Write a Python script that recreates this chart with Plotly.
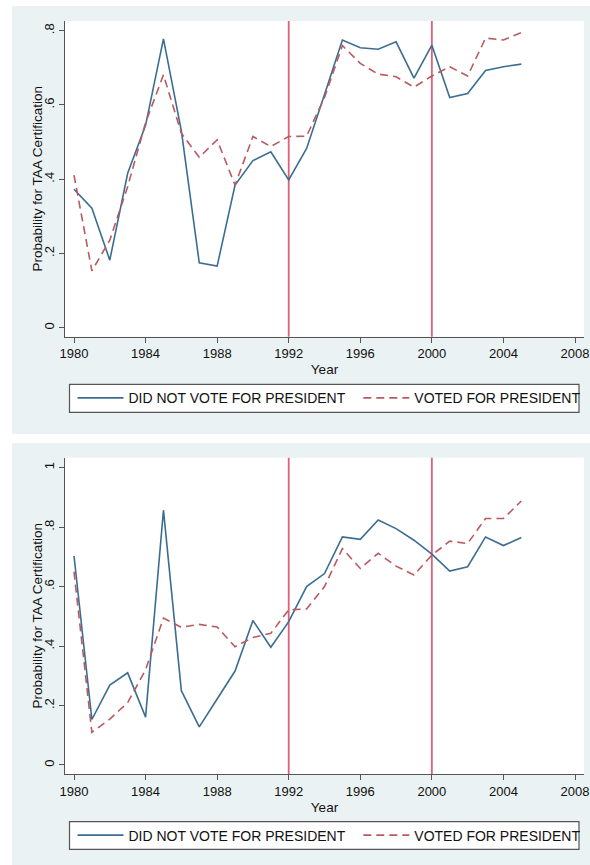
import plotly.graph_objects as go

W, H = 590, 865

years = [1980, 1981, 1982, 1983, 1984, 1985, 1986, 1987, 1988, 1989, 1990, 1991, 1992,
         1993, 1994, 1995, 1996, 1997, 1998, 1999, 2000, 2001, 2002, 2003, 2004, 2005]

top_not_voted = [0.373, 0.322, 0.182, 0.416, 0.545, 0.778, 0.530, 0.175, 0.166, 0.384, 0.450,
                 0.474, 0.398, 0.483, 0.628, 0.775, 0.754, 0.750, 0.770, 0.672, 0.761, 0.620,
                 0.631, 0.693, 0.703, 0.710]
top_voted = [0.411, 0.153, 0.236, 0.380, 0.552, 0.681, 0.524, 0.459, 0.506, 0.384, 0.515,
             0.488, 0.515, 0.516, 0.620, 0.760, 0.712, 0.683, 0.676, 0.648, 0.678, 0.703,
             0.678, 0.780, 0.775, 0.795]

bot_not_voted = [0.703, 0.153, 0.269, 0.310, 0.161, 0.857, 0.250, 0.128, 0.222, 0.316, 0.486,
                 0.396, 0.482, 0.600, 0.644, 0.767, 0.759, 0.824, 0.795, 0.756, 0.709, 0.652,
                 0.667, 0.767, 0.738, 0.765]
bot_voted = [0.650, 0.110, 0.154, 0.210, 0.320, 0.494, 0.463, 0.473, 0.464, 0.398, 0.429,
             0.443, 0.522, 0.525, 0.600, 0.728, 0.661, 0.712, 0.669, 0.639, 0.706, 0.753,
             0.745, 0.829, 0.829, 0.888]

event_years = [1992, 2000]

x_tickvals = [1980, 1984, 1988, 1992, 1996, 2000, 2004, 2008]
x_ticktext = ["1980", "1984", "1988", "1992", "1996", "2000", "2004", "2008"]
top_y_tickvals = [0, 0.2, 0.4, 0.6, 0.8]
top_y_ticktext = ["0", ".2", ".4", ".6", ".8"]
bot_y_tickvals = [0, 0.2, 0.4, 0.6, 0.8, 1]
bot_y_ticktext = ["0", ".2", ".4", ".6", ".8", "1"]

name_not = "DID NOT VOTE FOR PRESIDENT"
name_voted = "VOTED FOR PRESIDENT"
ytitle = "Probability for TAA Certification"
xtitle = "Year"

BLUE = "#3b6d92"
RED = "#b85a5f"
VLINE = "#e0607a"
BG = "#eaf2f3"
AXC = "#555555"
TXT = "#111111"
FONT = "Liberation Sans, Arial, Helvetica, sans-serif"


def px_x(p):
    return p / W


def px_y(p):
    return 1 - p / H


fig = go.Figure()

dash_style = "8px,5px"
# panel 1
fig.add_trace(go.Scatter(x=years, y=top_not_voted, mode="lines", name=name_not,
                         line=dict(color=BLUE, width=1.6), xaxis="x", yaxis="y", legend="legend"))
fig.add_trace(go.Scatter(x=years, y=top_voted, mode="lines", name=name_voted,
                         line=dict(color=RED, width=1.6, dash=dash_style), xaxis="x", yaxis="y",
                         legend="legend2"))
# panel 2
fig.add_trace(go.Scatter(x=years, y=bot_not_voted, mode="lines", name=name_not,
                         line=dict(color=BLUE, width=1.6), xaxis="x2", yaxis="y2", legend="legend3"))
fig.add_trace(go.Scatter(x=years, y=bot_voted, mode="lines", name=name_voted,
                         line=dict(color=RED, width=1.6, dash=dash_style), xaxis="x2", yaxis="y2",
                         legend="legend4"))

xdom = [px_x(65), px_x(584)]
xrange_ = [1979.497, 2008.503]

common_x = dict(range=xrange_, tickmode="array", tickvals=x_tickvals, ticktext=x_ticktext,
                showgrid=False, zeroline=False, showline=True, linecolor=AXC, linewidth=1.2,
                ticks="outside", ticklen=5, tickcolor=AXC, tickwidth=1.2, automargin=False,
                tickfont=dict(size=13, color=TXT, family=FONT),
                title=dict(text=xtitle, font=dict(size=13.5, color=TXT, family=FONT), standoff=4))
common_y = dict(showgrid=False, zeroline=False, showline=True, linecolor=AXC, linewidth=1.2,
                ticks="outside", ticklen=5, tickcolor=AXC, tickwidth=1.2, tickangle=-90,
                automargin=False,
                tickfont=dict(size=13, color=TXT, family=FONT))


def leg(xpx, ypx):
    return dict(orientation="h", x=px_x(xpx), xanchor="left", y=px_y(ypx), yanchor="middle",
                bgcolor="rgba(0,0,0,0)", borderwidth=0, itemwidth=46,
                font=dict(size=14, color=TXT, family=FONT))


fig.update_layout(
    width=W, height=H,
    margin=dict(l=0, r=0, t=0, b=0, autoexpand=False),
    paper_bgcolor="white", plot_bgcolor="white",
    font=dict(family=FONT, color=TXT),
    xaxis=dict(domain=xdom, anchor="y", **common_x),
    yaxis=dict(domain=[px_y(336.7), px_y(21)], anchor="x", range=[-0.0242, 0.8261],
               tickmode="array", tickvals=top_y_tickvals, ticktext=top_y_ticktext, **common_y),
    xaxis2=dict(domain=xdom, anchor="y2", **common_x),
    yaxis2=dict(domain=[px_y(774), px_y(457.7)], anchor="x2", range=[-0.0303, 1.0336],
                tickmode="array", tickvals=bot_y_tickvals, ticktext=bot_y_ticktext, **common_y),
    legend=leg(72.5, 398.3),
    legend2=leg(358.3, 398.3),
    legend3=leg(72.5, 835.5),
    legend4=leg(358.3, 835.5),
    showlegend=True,
)

# y-axis titles, placed like the reference
for yc in (178.9, 615.9):
    fig.add_annotation(text=ytitle, xref="paper", yref="paper", x=px_x(37.7), y=px_y(yc),
                       xanchor="center", yanchor="middle", textangle=-90, showarrow=False,
                       font=dict(size=13.5, color=TXT, family=FONT))

shapes = []
# graph region backgrounds
shapes.append(dict(type="rect", xref="paper", yref="paper", x0=px_x(12), x1=1.0,
                   y0=px_y(434), y1=px_y(6), fillcolor=BG, line=dict(width=0), layer="below"))
shapes.append(dict(type="rect", xref="paper", yref="paper", x0=px_x(12), x1=1.0,
                   y0=0, y1=px_y(443), fillcolor=BG, line=dict(width=0), layer="below"))
# plot regions (white)
shapes.append(dict(type="rect", xref="paper", yref="paper", x0=px_x(65), x1=px_x(584),
                   y0=px_y(336.7), y1=px_y(21), fillcolor="white", line=dict(width=0), layer="below"))
shapes.append(dict(type="rect", xref="paper", yref="paper", x0=px_x(65), x1=px_x(584),
                   y0=px_y(774), y1=px_y(457.7), fillcolor="white", line=dict(width=0), layer="below"))
# legend boxes
shapes.append(dict(type="rect", xref="paper", yref="paper", x0=px_x(69.5), x1=px_x(579),
                   y0=px_y(412.3), y1=px_y(384.3), fillcolor="white",
                   line=dict(width=1.2, color=AXC), layer="below"))
shapes.append(dict(type="rect", xref="paper", yref="paper", x0=px_x(69.5), x1=px_x(579),
                   y0=px_y(849.3), y1=px_y(821.7), fillcolor="white",
                   line=dict(width=1.2, color=AXC), layer="below"))
# event lines
for xr, yr in (("x", "y domain"), ("x2", "y2 domain")):
    for ev in event_years:
        shapes.append(dict(type="line", xref=xr, yref=yr, x0=ev, x1=ev, y0=0, y1=1,
                           line=dict(color=VLINE, width=1.8), layer="below"))

fig.update_layout(shapes=shapes)

fig.write_html("out.html", config={"displayModeBar": False},
               post_script="document.body.style.margin='0';document.body.style.overflow='hidden';")
